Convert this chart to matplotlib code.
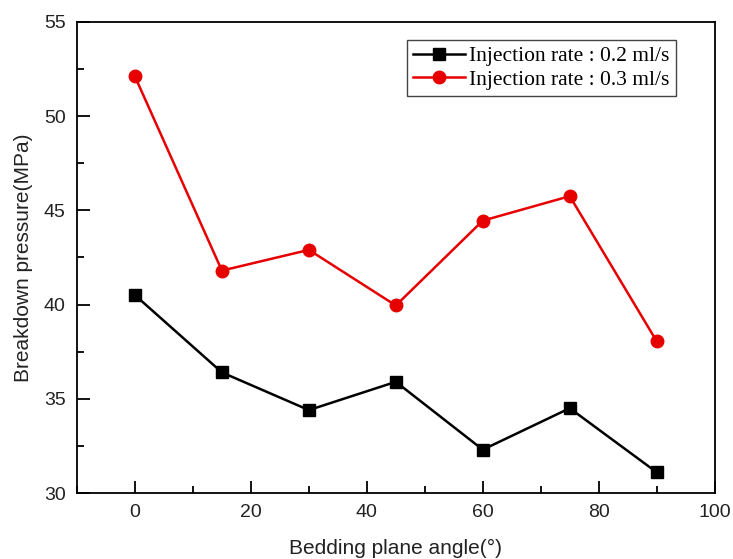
import matplotlib.pyplot as plt
import matplotlib
from matplotlib.ticker import MultipleLocator

angle = [0, 15, 30, 45, 60, 75, 90]
rate_02 = [40.5, 36.4, 34.4, 35.9, 32.3, 34.5, 31.1]
rate_03 = [52.1, 41.8, 42.9, 39.95, 44.45, 45.75, 38.05]
leg = ['Injection rate : 0.2 ml/s', 'Injection rate : 0.3 ml/s']

matplotlib.rcParams['font.family'] = 'Liberation Sans'

fig = plt.figure(figsize=(7.33, 5.59), dpi=100)
ax = fig.add_axes([0.105, 0.118, 0.870, 0.843])

ax.plot(angle, rate_02, color='black', lw=1.8, marker='s', ms=8, label=leg[0])
ax.plot(angle, rate_03, color='#e60000', lw=1.8, marker='o', ms=9, label=leg[1])

ax.set_xlim(-10, 100)
ax.set_ylim(30, 55)
ax.xaxis.set_major_locator(MultipleLocator(20))
ax.xaxis.set_minor_locator(MultipleLocator(10))
ax.yaxis.set_major_locator(MultipleLocator(5))
ax.yaxis.set_minor_locator(MultipleLocator(2.5))
ax.tick_params(which='both', direction='in', top=False, right=False,
               labelsize=14, width=1.3, pad=8, labelcolor='#222222')
ax.tick_params(which='major', length=9)
ax.tick_params(which='minor', length=5)
for s in ax.spines.values():
    s.set_linewidth(1.3)

ax.set_xlabel('Bedding plane angle(°)', fontsize=15, labelpad=13, color='#222222')
ax.set_ylabel('Breakdown pressure(MPa)', fontsize=15, labelpad=8, color='#222222')

lg = ax.legend(loc='upper right', bbox_to_anchor=(0.939, 0.962),
               prop={'family': 'Liberation Serif', 'size': 15.5},
               fancybox=False, edgecolor='#444444', framealpha=1,
               handlelength=2.4, handletextpad=0.2, borderpad=0.3,
               labelspacing=0.15, borderaxespad=0)
lg.get_frame().set_linewidth(1.0)

plt.savefig('out.png', dpi=100)
